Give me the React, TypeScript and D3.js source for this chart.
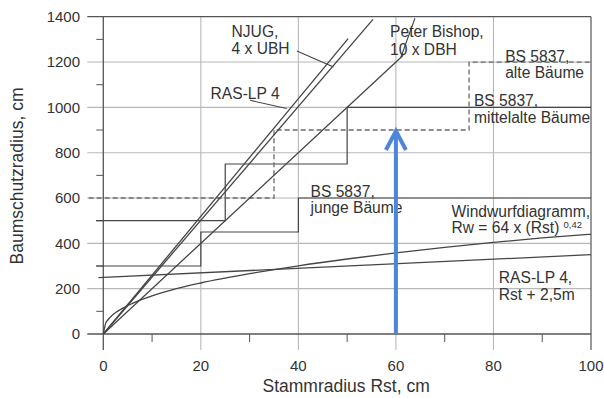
import React from "react";
import * as d3 from "d3";

// ---- data ----
const xTicks = [0, 20, 40, 60, 80, 100];
const xMinor = [10, 30, 50, 70, 90];
const yTicks = [0, 200, 400, 600, 800, 1000, 1200, 1400];
const yMinor = [100, 300, 500, 700, 900, 1100, 1300];

// straight lines from origin
const njug: [number, number][] = [[0, 0], [55.3, 1388]];
const rasLpSteep: [number, number][] = [[0, 0], [50.2, 1303]];
const peterBishop: [number, number][] = [[0, 0], [61.5, 1230]];
// RAS-LP 4, Rst + 2,5m
const rasLpPlus: [number, number][] = [[-1, 249], [100, 350]];
// Windwurfdiagramm Rw = 64 x Rst^0.42
const windwurf: [number, number][] = [
  [0, 0], [0.5, 48], [1, 64], [2, 86], [4, 114], [6, 135], [10, 168], [15, 200],
  [20, 225], [30, 266], [40, 301], [50, 331], [60, 358], [70, 382], [80, 404],
  [90, 424], [100, 440],
];
// BS 5837 steps
const bsJunge: [number, number][] = [[-1.5, 300], [20, 450], [40, 600], [100, 600]];
const bsMittel: [number, number][] = [[-1.5, 500], [25, 750], [50, 1000], [100, 1000]];
const bsAlte: [number, number][] = [[-3, 600], [35, 900], [75, 1200], [100, 1200]];

// leader lines
const leaders: [number, number][][] = [
  [[39.7, 1249], [47.2, 1178]],
  [[30.1, 1031], [37.6, 995]],
  [[63.9, 1393], [61.0, 1220]],
];

const arrowX = 60;
const arrowFrom = 0;
const arrowTo = 900;

type Label = { x: number; y: number; lines: string[]; dy: number };
const labels: Label[] = [
  { x: 26.3, y: 1310, lines: ["NJUG,", "4 x UBH"], dy: 16.6 },
  { x: 22.0, y: 1039, lines: ["RAS-LP 4"], dy: 16.6 },
  { x: 58.8, y: 1309, lines: ["Peter Bishop,", "10 x DBH"], dy: 18 },
  { x: 82.4, y: 1201, lines: ["BS 5837,", "alte Bäume"], dy: 16.6 },
  { x: 76.0, y: 1005, lines: ["BS 5837,", "mittelalte Bäume"], dy: 17 },
  { x: 42.5, y: 606, lines: ["BS 5837,", "junge Bäume"], dy: 16.6 },
  { x: 71.4, y: 517, lines: ["Windwurfdiagramm,", "Rw = 64 x (Rst)"], dy: 16.4 },
  { x: 81.1, y: 225, lines: ["RAS-LP 4,", "Rst + 2,5m"], dy: 17 },
];

const W = 604;
const H = 398;
const FONT = "'Liberation Sans', Arial, Helvetica, sans-serif";

export default function App() {
  const x = d3.scaleLinear().domain([0, 100]).range([103.3, 591]);
  const y = d3.scaleLinear().domain([0, 1400]).range([334, 16.7]);
  const line = d3.line<[number, number]>().x((d) => x(d[0])).y((d) => y(d[1]));
  const stepLine = d3
    .line<[number, number]>()
    .x((d) => x(d[0]))
    .y((d) => y(d[1]))
    .curve(d3.curveStepAfter);
  const curve = d3
    .line<[number, number]>()
    .x((d) => x(d[0]))
    .y((d) => y(d[1]))
    .curve(d3.curveMonotoneX);

  const gridCol = "#b8b8b8";
  const axisCol = "#555";
  const lineCol = "#454545";
  const textCol = "#333";
  const blue = "#4d86d8";

  const x0 = x(0);
  const y0 = y(0);
  const yTop = y(1400);
  const xRight = x(100);

  return (
    <svg
      width={W}
      height={H}
      style={{ position: "absolute", left: 0, top: 0, background: "#fff" }}
      fontFamily={FONT}
    >
      <rect x={0} y={0} width={W} height={H} fill="#fff" />
      {/* horizontal gridlines */}
      {yTicks.filter((t) => t > 0 && t < 1400).map((t) => (
        <line key={"hg" + t} x1={x0 - 16} x2={xRight} y1={y(t)} y2={y(t)} stroke={gridCol} strokeWidth={1.1} />
      ))}
      {/* vertical gridlines */}
      {xTicks.filter((t) => t > 0 && t < 100).map((t) => (
        <line key={"vg" + t} x1={x(t)} x2={x(t)} y1={yTop} y2={y0 + 16} stroke={gridCol} strokeWidth={1.1} />
      ))}
      {/* minor ticks */}
      {xMinor.map((t) => (
        <line key={"xm" + t} x1={x(t)} x2={x(t)} y1={y0} y2={y0 + 8} stroke={axisCol} strokeWidth={1} />
      ))}
      {yMinor.map((t) => (
        <line key={"ym" + t} x1={x0 - 7} x2={x0} y1={y(t)} y2={y(t)} stroke={axisCol} strokeWidth={1} />
      ))}
      {/* frame / axes */}
      <line x1={x0 - 16} x2={xRight} y1={yTop} y2={yTop} stroke={axisCol} strokeWidth={1.2} />
      <line x1={x0 - 16} x2={xRight} y1={y0} y2={y0} stroke={axisCol} strokeWidth={1.3} />
      <line x1={x0} x2={x0} y1={yTop} y2={y0 + 16} stroke={axisCol} strokeWidth={1.3} />
      <line x1={xRight} x2={xRight} y1={yTop} y2={y0 + 16} stroke={axisCol} strokeWidth={1.2} />

      {/* BS 5837 steps */}
      <path d={stepLine(bsJunge) || ""} fill="none" stroke={lineCol} strokeWidth={1.2} />
      <path d={stepLine(bsMittel) || ""} fill="none" stroke={lineCol} strokeWidth={1.2} />
      <path d={stepLine(bsAlte) || ""} fill="none" stroke="#6a6a6a" strokeWidth={1.3} strokeDasharray="5 3" />

      {/* lines */}
      <path d={line(njug) || ""} fill="none" stroke={lineCol} strokeWidth={1.3} />
      <path d={line(rasLpSteep) || ""} fill="none" stroke={lineCol} strokeWidth={1.3} />
      <path d={line(peterBishop) || ""} fill="none" stroke={lineCol} strokeWidth={1.3} />
      <path d={line(rasLpPlus) || ""} fill="none" stroke={lineCol} strokeWidth={1.3} />
      <path d={curve(windwurf) || ""} fill="none" stroke={lineCol} strokeWidth={1.3} />
      {leaders.map((l, i) => (
        <path key={"ld" + i} d={line(l) || ""} fill="none" stroke={lineCol} strokeWidth={1.1} />
      ))}

      {/* tick labels */}
      {yTicks.map((t) => (
        <text key={"yl" + t} x={80} y={y(t)} dy="0.36em" textAnchor="end" fontSize={15} fill={textCol}>
          {t}
        </text>
      ))}
      {xTicks.map((t) => (
        <text key={"xl" + t} x={x(t)} y={371} textAnchor="middle" fontSize={15} fill={textCol}>
          {t}
        </text>
      ))}

      {/* axis titles */}
      <text x={(x0 + xRight) / 2 - 1} y={391.5} textAnchor="middle" fontSize={17.5} fill={textCol}>
        Stammradius Rst, cm
      </text>
      <text
        transform={`translate(23, 176) rotate(-90)`}
        textAnchor="middle"
        fontSize={17.5}
        fill={textCol}
      >
        Baumschutzradius, cm
      </text>

      {/* annotations */}
      {labels.map((lb, i) => (
        <text key={"lb" + i} x={x(lb.x)} y={y(lb.y)} fontSize={15.6} fill={textCol}>
          {lb.lines.map((s, j) => (
            <tspan key={j} x={x(lb.x)} dy={j === 0 ? 0 : lb.dy}>
              {s}
            </tspan>
          ))}
        </text>
      ))}
      <text x={x(71.4) + 112} y={y(517) + 11} fontSize={9.5} fill={textCol}>
        0,42
      </text>

      {/* blue arrow */}
      <line
        x1={x(arrowX)}
        x2={x(arrowX)}
        y1={y(arrowFrom)}
        y2={y(arrowTo) + 2}
        stroke={blue}
        strokeWidth={4}
      />
      <polyline
        points={`${x(arrowX) - 10},${y(arrowTo) + 20} ${x(arrowX)},${y(arrowTo) + 1} ${x(arrowX) + 10},${y(arrowTo) + 20}`}
        fill="none"
        stroke={blue}
        strokeWidth={4}
        strokeLinejoin="miter"
      />
    </svg>
  );
}
